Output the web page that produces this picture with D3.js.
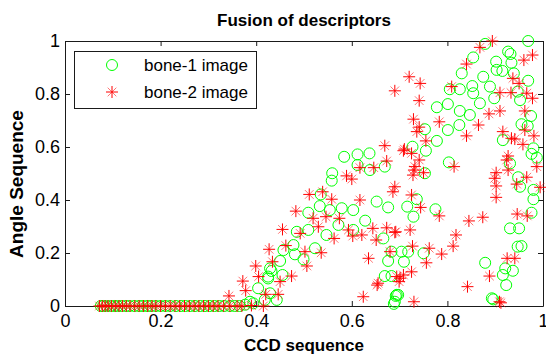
<!DOCTYPE html>
<html>
<head>
<meta charset="utf-8">
<script src="https://cdn.jsdelivr.net/npm/d3@7"></script>
<style>
  body { margin: 0; background: #fff; }
  text { font-family: Arial, "Liberation Sans", sans-serif; }
</style>
</head>
<body>
<svg id="chart" width="546" height="356"></svg>
<script>
// values
const seriesNames = ["bone-1 image", "bone-2 image"]
const xTicks = [0, 0.2, 0.4, 0.6, 0.8, 1]
const yTicks = [0, 0.2, 0.4, 0.6, 0.8, 1]

// bone-1 image (green circles)
const bone1 = [
  [0.075,0],[0.08,0],[0.087,0],[0.095,0],[0.103,0],[0.11,0],[0.118,0],[0.127,0],[0.135,0],[0.145,0],
  [0.155,0],[0.163,0],[0.172,0],[0.18,0],[0.19,0],[0.2,0],[0.21,0],[0.22,0],[0.232,0],[0.243,0],
  [0.252,0],[0.262,0],[0.272,0],[0.283,0],[0.293,0],[0.303,0],[0.313,0],[0.323,0],[0.333,0],[0.345,0],
  [0.355,0],[0.365,0],[0.377,0.005],
  [0.387,0.016],[0.394,0.010],[0.404,0.067],[0.418,0.023],[0.429,0.048],[0.425,0.111],[0.429,0.142],
  [0.432,0.132],[0.425,0.104],[0.443,0.023],[0.455,0.117],[0.450,0.170],[0.457,0.211],[0.478,0.230],
  [0.481,0.195],[0.499,0.176],[0.485,0.280],[0.509,0.287],[0.523,0.218],[0.509,0.352],[0.547,0.268],
  [0.533,0.377],[0.535,0.421],[0.554,0.362],[0.572,0.306],[0.579,0.369],[0.603,0.362],[0.603,0.287],
  [0.628,0.322],[0.558,0.473],[0.559,0.501],[0.584,0.563],[0.612,0.572],[0.637,0.576],[0.612,0.532],
  [0.638,0.513],[0.669,0.526],[0.652,0.394],[0.676,0.372],[0.666,0.255],[0.683,0.205],[0.676,0.170],
  [0.669,0.113],[0.683,0.113],[0.694,0.042],[0.690,0.016],[0.692,0.038],[0.688,0.008],
  [0.969,1.0],[0.879,0.989],[0.854,0.938],[0.927,0.960],[0.932,0.951],[0.902,0.922],[0.934,0.918],
  [0.903,0.891],[0.915,0.887],[0.939,0.878],[0.830,0.878],[0.875,0.865],[0.969,0.850],[0.852,0.830],
  [0.889,0.828],[0.805,0.818],[0.826,0.818],[0.854,0.803],[0.947,0.809],[0.952,0.777],[0.898,0.784],
  [0.868,0.765],[0.801,0.762],[0.778,0.750],[0.826,0.736],[0.847,0.721],[0.975,0.717],[0.955,0.686],
  [0.968,0.679],[0.753,0.667],[0.801,0.664],[0.825,0.683],[0.778,0.623],[0.916,0.626],[0.727,0.601],
  [0.803,0.542],[0.980,0.595],[0.976,0.574],[0.987,0.560],[0.755,0.586],[0.931,0.538],[0.753,0.501],
  [0.948,0.486],[0.952,0.450],[0.980,0.438],[0.716,0.375],[0.736,0.403],[0.729,0.337],[0.775,0.365],
  [0.980,0.403],[0.976,0.352],[0.931,0.293],[0.950,0.293],[0.947,0.224],[0.955,0.226],[0.704,0.205],
  [0.718,0.205],[0.750,0.199],[0.709,0.167],[0.879,0.163],[0.921,0.142],[0.937,0.133],[0.916,0.117],
  [0.923,0.079],[0.697,0.042],[0.893,0.029],[0.896,0.025]
]

// bone-2 image (red stars)
const bone2 = [
  [0.072,0],[0.078,0],[0.084,0],[0.09,0],[0.097,0],[0.105,0],[0.113,0],[0.12,0],[0.128,0],[0.136,0],
  [0.146,0],[0.155,0],[0.164,0],[0.173,0],[0.182,0],[0.19,0],[0.2,0],[0.21,0],[0.22,0],[0.23,0],
  [0.24,0],[0.25,0],[0.26,0],[0.27,0],[0.28,0],[0.29,0],[0.3,0],[0.31,0],[0.32,0],[0.332,0],
  [0.345,0],[0.36,0],[0.37,0],[0.39,0.002],[0.415,0],
  [0.343,0.038],[0.378,0.058],[0.372,0.094],[0.405,0.111],[0.399,0.151],[0.434,0.167],[0.427,0.214],
  [0.420,0.044],[0.446,0.044],[0.450,0.092],[0.474,0.113],[0.506,0.151],[0.462,0.228],[0.502,0.205],
  [0.536,0.201],[0.455,0.289],[0.492,0.274],[0.530,0.299],[0.483,0.358],[0.519,0.331],[0.546,0.337],
  [0.574,0.331],[0.511,0.421],[0.539,0.431],[0.558,0.403],[0.617,0.400],[0.563,0.255],[0.593,0.287],
  [0.602,0.264],[0.621,0.268],[0.644,0.293],[0.673,0.295],[0.690,0.278],[0.651,0.249],[0.680,0.205],
  [0.635,0.180],[0.655,0.086],[0.624,0.035],[0.694,0.111],[0.589,0.491],[0.600,0.479],[0.617,0.522],
  [0.646,0.522],[0.690,0.450],[0.686,0.431],[0.669,0.605],[0.673,0.547],
  [0.894,1.0],[0.868,0.976],[0.978,0.947],[0.960,0.928],[0.840,0.913],[0.720,0.865],[0.743,0.840],
  [0.690,0.812],[0.937,0.859],[0.950,0.840],[0.809,0.828],[0.910,0.805],[0.933,0.805],[0.966,0.803],
  [0.978,0.784],[0.741,0.775],[0.910,0.736],[0.887,0.725],[0.962,0.736],[0.783,0.695],[0.729,0.705],
  [0.741,0.675],[0.736,0.658],[0.865,0.683],[0.962,0.664],[0.981,0.642],[0.916,0.658],[0.840,0.642],
  [0.755,0.623],[0.934,0.633],[0.941,0.630],[0.958,0.610],[0.710,0.592],[0.725,0.576],[0.741,0.551],
  [0.927,0.566],[0.924,0.551],[0.732,0.526],[0.814,0.526],[0.987,0.526],[0.708,0.586],[0.730,0.513],
  [0.728,0.494],[0.750,0.503],[0.927,0.513],[0.902,0.503],[0.899,0.482],[0.902,0.453],[0.902,0.410],
  [0.966,0.486],[0.945,0.460],[0.994,0.448],[0.725,0.419],[0.744,0.372],[0.783,0.340],[0.845,0.321],
  [0.874,0.335],[0.946,0.347],[0.967,0.340],[0.818,0.268],[0.812,0.226],[0.692,0.280],[0.722,0.287],
  [0.727,0.226],[0.762,0.218],[0.756,0.163],[0.788,0.196],[0.725,0.129],[0.708,0.117],[0.701,0.105],
  [0.699,0.092],[0.653,0.079],[0.925,0.180],[0.941,0.180],[0.888,0.113],[0.842,0.073],[0.730,0.016],
  [0.909,0.016],[0.912,0.012]
]

const plotLeft = 65, plotRight = 543, plotTop = 41, plotBottom = 306

let svg = d3.select("#chart")

let x = d3.scaleLinear().domain([0, 1]).range([plotLeft, plotRight])
let y = d3.scaleLinear().domain([0, 1]).range([plotBottom, plotTop])

let fmt = d => d === 0 || d === 1 ? d3.format("d")(d) : d3.format(".1f")(d)

// axes, ticks pointing inwards like matlab
svg.append("g")
    .attr("transform", `translate(0,${plotBottom})`)
    .call(d3.axisBottom(x).tickValues(xTicks).tickFormat(fmt).tickSizeInner(-5).tickSizeOuter(0).tickPadding(8))
svg.append("g")
    .attr("transform", `translate(${plotLeft},0)`)
    .call(d3.axisLeft(y).tickValues(yTicks).tickFormat(fmt).tickSizeInner(-5).tickSizeOuter(0).tickPadding(5))
svg.append("g")
    .attr("transform", `translate(0,${plotTop})`)
    .call(d3.axisTop(x).tickValues(xTicks).tickFormat("").tickSizeInner(-5).tickSizeOuter(0))
svg.append("g")
    .attr("transform", `translate(${plotRight},0)`)
    .call(d3.axisRight(y).tickValues(yTicks).tickFormat("").tickSizeInner(-5).tickSizeOuter(0))

svg.selectAll(".domain, .tick line").attr("stroke", "#1a1a1a")
svg.selectAll(".tick text").attr("font-size", 18).attr("fill", "#000")

// markers: matlab '*' = plus with lighter diagonals
let plus = r => `M${-r},0H${r}M0,${-r}V${r}`
let cross = r => {
  let d = r * 0.72
  return `M${-d},${-d}L${d},${d}M${-d},${d}L${d},${-d}`
}
let drawStar = g => {
  g.append("path").attr("d", cross(6)).attr("fill", "none")
    .attr("stroke", "#ff0000").attr("stroke-opacity", 0.55)
  g.append("path").attr("d", plus(6)).attr("fill", "none")
    .attr("stroke", "#ff0000")
}

svg.append("g")
  .selectAll("circle")
  .data(bone1)
  .join("circle")
    .attr("cx", d => x(d[0]))
    .attr("cy", d => y(d[1]))
    .attr("r", 5.5)
    .attr("fill", "none")
    .attr("stroke", "#00ff00")
    .attr("stroke-width", 1)

svg.append("g")
  .selectAll("g")
  .data(bone2)
  .join("g")
    .attr("transform", d => `translate(${x(d[0])},${y(d[1])})`)
    .call(drawStar)

// titles
svg.append("text")
    .attr("x", (plotLeft + plotRight) / 2)
    .attr("y", 26)
    .attr("text-anchor", "middle")
    .attr("font-size", 17)
    .attr("font-weight", "bold")
    .text("Fusion of descriptors")

svg.append("text")
    .attr("x", (plotLeft + plotRight) / 2)
    .attr("y", 351)
    .attr("text-anchor", "middle")
    .attr("font-size", 17)
    .attr("font-weight", "bold")
    .text("CCD sequence")

svg.append("text")
    .attr("transform", "translate(23,184) rotate(-90)")
    .attr("text-anchor", "middle")
    .attr("font-size", 19)
    .attr("font-weight", "bold")
    .text("Angle Sequence")

// legend
let legend = svg.append("g")
legend.append("rect")
    .attr("x", 74.5).attr("y", 51.5)
    .attr("width", 182).attr("height", 57)
    .attr("fill", "#fff")
    .attr("stroke", "#1a1a1a")

let rows = legend.selectAll("g.row")
  .data(seriesNames)
  .join("g")
    .attr("class", "row")
    .attr("transform", (d, i) => `translate(112,${65 + i * 27})`)

rows.filter((d, i) => i === 0).append("circle")
    .attr("r", 5.5).attr("fill", "none").attr("stroke", "#00ff00")
rows.filter((d, i) => i === 1).call(drawStar)
rows.append("text")
    .attr("x", 32)
    .attr("dy", "0.35em")
    .attr("font-size", 17)
    .text(d => d)
</script>
</body>
</html>
